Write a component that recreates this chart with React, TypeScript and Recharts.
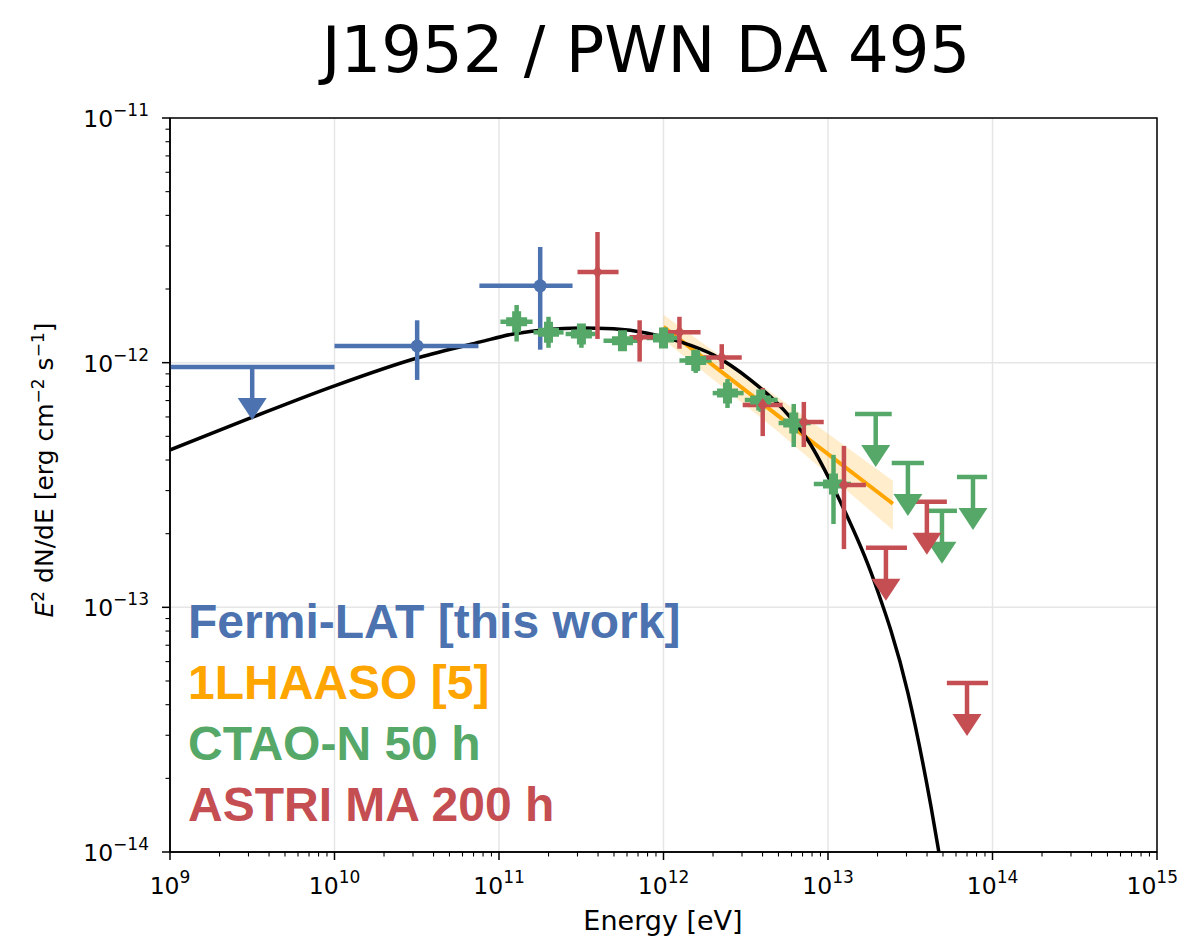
import React from 'react';
import {
  ComposedChart,
  XAxis,
  YAxis,
  Scatter,
  Line,
  Area,
  ErrorBar,
  CartesianGrid,
  ReferenceArea,
} from 'recharts';

const W = 1180;
const H = 943;

const BLUE = '#4c72b0';
const ORANGE = '#ffa500';
const GREEN = '#55a868';
const RED = '#c44e52';

// Axis decades (tick labels are 10^n)
const X_DECADES = [9, 10, 11, 12, 13, 14, 15];
const Y_DECADES = [-14, -13, -12, -11];

// Model curve (black)
const MODEL_E = [1e9, 3.2e9, 1.0e10, 3.18e10, 7.7e10, 1.22e11, 3.13e11, 4.97e11, 8.0e11, 1.27e12, 2.02e12, 3.39e12, 5.38e12, 7.53e12, 1.15e13, 1.9e13, 3.06e13, 4.23e13, 4.72e13];
const MODEL_F = [4.4e-13, 6.0e-13, 8.04e-13, 1.045e-12, 1.216e-12, 1.31e-12, 1.387e-12, 1.375e-12, 1.32e-12, 1.216e-12, 1.074e-12, 8.49e-13, 6.41e-13, 4.83e-13, 2.83e-13, 1.29e-13, 4.47e-14, 1.53e-14, 1.0e-14];

// 1LHAASO power law and band
const LHAASO_E = [1e12, 5.0e12, 2.48e13];
const LHAASO_F = [1.4e-12, 6.05e-13, 2.65e-13];
const LHAASO_LO = [1.24e-12, 5.21e-13, 2.07e-13];
const LHAASO_HI = [1.57e-12, 7.18e-13, 3.29e-13];

// Fermi-LAT
const FERMI_E = [3.18e10, 1.78e11];
const FERMI_E_LO = [1.0e10, 7.6e10];
const FERMI_E_HI = [7.5e10, 2.8e11];
const FERMI_F = [1.17e-12, 2.06e-12];
const FERMI_F_LO = [8.5e-13, 1.13e-12];
const FERMI_F_HI = [1.49e-12, 2.97e-12];
const FERMI_UL_E = [3.16e9];
const FERMI_UL_E_LO = [1.0e9];
const FERMI_UL_E_HI = [1.0e10];
const FERMI_UL_F = [9.6e-13];

// CTAO-N 50 h
const CTAO_E = [1.28e11, 2.0e11, 3.17e11, 5.63e11, 1.0e12, 1.57e12, 2.45e12, 3.9e12, 6.19e12, 1.08e13];
const CTAO_E_LO = [1.02e11, 1.62e11, 2.54e11, 4.32e11, 7.89e11, 1.25e12, 1.99e12, 3.12e12, 5.01e12, 8.2e12];
const CTAO_E_HI = [1.6e11, 2.47e11, 3.86e11, 7.26e11, 1.27e12, 1.96e12, 3.07e12, 4.94e12, 7.85e12, 1.38e13];
const CTAO_F = [1.47e-12, 1.33e-12, 1.31e-12, 1.23e-12, 1.26e-12, 1.02e-12, 7.51e-13, 7.04e-13, 5.67e-13, 3.19e-13];
const CTAO_F_LO = [1.22e-12, 1.15e-12, 1.15e-12, 1.12e-12, 1.15e-12, 9.08e-13, 6.53e-13, 6.29e-13, 4.52e-13, 2.19e-13];
const CTAO_F_HI = [1.72e-12, 1.54e-12, 1.44e-12, 1.32e-12, 1.39e-12, 1.13e-12, 8.57e-13, 7.73e-13, 6.78e-13, 4.2e-13];
const CTAO_UL_E = [1.95e13, 3.06e13, 4.93e13, 7.61e13];
const CTAO_UL_E_LO = [1.46e13, 2.44e13, 4.11e13, 6.08e13];
const CTAO_UL_E_HI = [2.44e13, 3.83e13, 6.08e13, 9.27e13];
const CTAO_UL_F = [6.17e-13, 3.89e-13, 2.48e-13, 3.41e-13];

// ASTRI MA 200 h
const ASTRI_E = [3.97e11, 7.16e11, 1.25e12, 2.26e12, 4.01e12, 7.13e12, 1.25e13];
const ASTRI_E_LO = [3.0e11, 6.22e11, 1.03e12, 1.75e12, 3.03e12, 5.38e12, 9.55e12];
const ASTRI_E_HI = [5.33e11, 9.2e11, 1.68e12, 2.99e12, 5.3e12, 9.42e12, 1.7e13];
const ASTRI_F = [2.35e-12, 1.27e-12, 1.33e-12, 1.05e-12, 6.71e-13, 5.72e-13, 3.16e-13];
const ASTRI_F_LO = [1.25e-12, 1.01e-12, 1.14e-12, 9.42e-13, 5.01e-13, 4.52e-13, 1.73e-13];
const ASTRI_F_HI = [3.42e-12, 1.49e-12, 1.54e-12, 1.19e-12, 7.88e-13, 6.91e-13, 4.57e-13];
const ASTRI_UL_E = [2.25e13, 3.99e13, 7.0e13];
const ASTRI_UL_E_LO = [1.7e13, 3.33e13, 5.28e13];
const ASTRI_UL_E_HI = [3.02e13, 5.28e13, 9.4e13];
const ASTRI_UL_F = [1.75e-13, 2.7e-13, 4.91e-14];

const LEGEND = [
  { label: 'Fermi-LAT [this work]', color: BLUE },
  { label: '1LHAASO [5]', color: ORANGE },
  { label: 'CTAO-N 50 h', color: GREEN },
  { label: 'ASTRI MA 200 h', color: RED },
];

// ---- table builders ----
const makePoints = (E: number[], elo: number[], ehi: number[], F: number[], flo: number[], fhi: number[]) =>
  E.map((e, i) => ({ e, f: F[i], ex: [e - elo[i], ehi[i] - e], ey: [F[i] - flo[i], fhi[i] - F[i]] }));
const makeULs = (E: number[], elo: number[], ehi: number[], F: number[]) =>
  E.map((e, i) => ({ e, f: F[i], ex: [e - elo[i], ehi[i] - e] }));

const modelData = MODEL_E.map((e, i) => ({ e, f: MODEL_F[i] }));
const lhaasoData = LHAASO_E.map((e, i) => ({ e, f: LHAASO_F[i], band: [LHAASO_LO[i], LHAASO_HI[i]] }));
const fermiData = makePoints(FERMI_E, FERMI_E_LO, FERMI_E_HI, FERMI_F, FERMI_F_LO, FERMI_F_HI);
const fermiUL = makeULs(FERMI_UL_E, FERMI_UL_E_LO, FERMI_UL_E_HI, FERMI_UL_F);
const ctaoData = makePoints(CTAO_E, CTAO_E_LO, CTAO_E_HI, CTAO_F, CTAO_F_LO, CTAO_F_HI);
const ctaoUL = makeULs(CTAO_UL_E, CTAO_UL_E_LO, CTAO_UL_E_HI, CTAO_UL_F);
const astriData = makePoints(ASTRI_E, ASTRI_E_LO, ASTRI_E_HI, ASTRI_F, ASTRI_F_LO, ASTRI_F_HI);
const astriUL = makeULs(ASTRI_UL_E, ASTRI_UL_E_LO, ASTRI_UL_E_HI, ASTRI_UL_F);

const majorTicks = (decs: number[]) => decs.map((d) => Math.pow(10, d));
const allTicks = (decs: number[]) => {
  const out: number[] = [];
  decs.forEach((d, i) => {
    out.push(Math.pow(10, d));
    if (i < decs.length - 1) for (let m = 2; m <= 9; m++) out.push(m * Math.pow(10, d));
  });
  return out;
};
const X_MAJOR = majorTicks(X_DECADES);
const Y_MAJOR = majorTicks(Y_DECADES);
const X_TICKS = allTicks(X_DECADES);
const Y_TICKS = allTicks(Y_DECADES);

const isMajor = (v: number) => {
  const l = Math.log10(v);
  return Math.abs(l - Math.round(l)) < 1e-6;
};
const expLabel = (v: number) => {
  const n = Math.round(Math.log10(v));
  return n < 0 ? '\u2212' + String(-n) : String(n);
};

const TICK_FONT = 'DejaVu Sans, sans-serif';
const TICK_FS = 23.5;
const EXP_FS = 17;

const XTick = (props: any) => {
  const { x, y, payload } = props;
  const v = payload.value;
  const major = isMajor(v);
  // keep the last label inside the picture
  const last = Math.abs(Math.log10(v) - X_DECADES[X_DECADES.length - 1]) < 1e-6;
  return (
    <g>
      <line x1={x} x2={x} y1={y} y2={y + (major ? 8 : 4.5)} stroke="#000" strokeWidth={major ? 1.5 : 1.1} />
      {major && (
        <text
          x={last ? W - 2 : x}
          y={y + 42}
          textAnchor={last ? 'end' : 'middle'}
          fontFamily={TICK_FONT}
          fontSize={TICK_FS}
          fill="#000"
        >
          <tspan>10</tspan>
          <tspan dy={-11} fontSize={EXP_FS}>{expLabel(v)}</tspan>
        </text>
      )}
    </g>
  );
};

const YTick = (props: any) => {
  const { x, y, payload } = props;
  const v = payload.value;
  const major = isMajor(v);
  return (
    <g>
      <line x1={x} x2={x - (major ? 8 : 4.5)} y1={y} y2={y} stroke="#000" strokeWidth={major ? 1.5 : 1.1} />
      {major && (
        <text x={x - 21} y={y + 9} textAnchor="end" fontFamily={TICK_FONT} fontSize={TICK_FS} fill="#000">
          <tspan>10</tspan>
          <tspan dy={-11} fontSize={EXP_FS}>{expLabel(v)}</tspan>
        </text>
      )}
    </g>
  );
};

const circleShape = (p: any) => <circle cx={p.cx} cy={p.cy} r={6.5} fill={BLUE} />;
const diamondShape = (p: any) => (
  <path d={`M${p.cx},${p.cy - 7}L${p.cx + 5},${p.cy}L${p.cx},${p.cy + 7}L${p.cx - 5},${p.cy}Z`} fill={RED} />
);
const plusShape = (p: any) => {
  const a = 10.5;
  const t = 4.5;
  const { cx, cy } = p;
  return (
    <path
      d={`M${cx - t},${cy - a}H${cx + t}V${cy - t}H${cx + a}V${cy + t}H${cx + t}V${cy + a}H${cx - t}V${cy + t}H${cx - a}V${cy - t}H${cx - t}Z`}
      fill={GREEN}
    />
  );
};
const ulShape = (color: string) => (p: any) => {
  const { cx, cy } = p;
  return (
    <g>
      <line x1={cx} x2={cx} y1={cy} y2={cy + 33} stroke={color} strokeWidth={4.5} />
      <path d={`M${cx - 14.5},${cy + 31}L${cx + 14.5},${cy + 31}L${cx},${cy + 53}Z`} fill={color} />
    </g>
  );
};

const EB_W = 4.5;

export default function App() {
  return (
    <div style={{ position: 'absolute', left: 0, top: 0, width: W, height: H, background: '#fff' }}>
      <ComposedChart width={W} height={H} margin={{ top: 118, right: 23, bottom: 0, left: 0 }}>
        <CartesianGrid
          horizontalValues={Y_MAJOR}
          verticalValues={X_MAJOR}
          stroke="#e6e6e6"
          strokeWidth={1.5}
        />
        <XAxis
          type="number"
          dataKey="e"
          scale="log"
          domain={[1e9, 1e15]}
          allowDataOverflow
          ticks={X_TICKS}
          interval={0}
          tick={(p: any) => <XTick {...p} />}
          tickLine={false}
          tickSize={0}
          tickMargin={0}
          height={91}
          axisLine={{ stroke: '#000', strokeWidth: 1.5 }}
        />
        <YAxis
          type="number"
          dataKey="f"
          scale="log"
          domain={[1e-14, 1e-11]}
          allowDataOverflow
          ticks={Y_TICKS}
          interval={0}
          tick={(p: any) => <YTick {...p} />}
          tickLine={false}
          tickSize={0}
          tickMargin={0}
          width={170}
          axisLine={{ stroke: '#000', strokeWidth: 1.5 }}
        />
        <Area
          data={lhaasoData}
          dataKey="band"
          stroke="none"
          fill={ORANGE}
          fillOpacity={0.2}
          isAnimationActive={false}
        />
        <Line data={lhaasoData} dataKey="f" stroke={ORANGE} strokeWidth={4} dot={false} isAnimationActive={false} />
        <Line
          data={modelData}
          dataKey="f"
          type="monotone"
          stroke="#000"
          strokeWidth={3.5}
          dot={false}
          isAnimationActive={false}
        />
        <Scatter data={fermiData} shape={circleShape} isAnimationActive={false}>
          <ErrorBar dataKey="ex" direction="x" width={0} stroke={BLUE} strokeWidth={EB_W} />
          <ErrorBar dataKey="ey" direction="y" width={0} stroke={BLUE} strokeWidth={EB_W} />
        </Scatter>
        <Scatter data={fermiUL} shape={ulShape(BLUE)} isAnimationActive={false}>
          <ErrorBar dataKey="ex" direction="x" width={0} stroke={BLUE} strokeWidth={EB_W} />
        </Scatter>
        <Scatter data={ctaoData} shape={plusShape} isAnimationActive={false}>
          <ErrorBar dataKey="ex" direction="x" width={0} stroke={GREEN} strokeWidth={EB_W} />
          <ErrorBar dataKey="ey" direction="y" width={0} stroke={GREEN} strokeWidth={EB_W} />
        </Scatter>
        <Scatter data={ctaoUL} shape={ulShape(GREEN)} isAnimationActive={false}>
          <ErrorBar dataKey="ex" direction="x" width={0} stroke={GREEN} strokeWidth={EB_W} />
        </Scatter>
        <Scatter data={astriData} shape={diamondShape} isAnimationActive={false}>
          <ErrorBar dataKey="ex" direction="x" width={0} stroke={RED} strokeWidth={EB_W} />
          <ErrorBar dataKey="ey" direction="y" width={0} stroke={RED} strokeWidth={EB_W} />
        </Scatter>
        <Scatter data={astriUL} shape={ulShape(RED)} isAnimationActive={false}>
          <ErrorBar dataKey="ex" direction="x" width={0} stroke={RED} strokeWidth={EB_W} />
        </Scatter>
        <ReferenceArea
          x1={1e9}
          x2={1e15}
          y1={1e-14}
          y2={1e-11}
          fill="none"
          fillOpacity={0}
          stroke="#000"
          strokeWidth={1.5}
          strokeOpacity={1}
        />
      </ComposedChart>
      <svg
        width={W}
        height={H}
        style={{ position: 'absolute', left: 0, top: 0, pointerEvents: 'none' }}
      >
        <text x={646} y={72} textAnchor="middle" fontFamily="DejaVu Sans, sans-serif" fontSize={64} fill="#000">
          J1952 / PWN DA 495
        </text>
        <text x={663} y={930} textAnchor="middle" fontFamily="DejaVu Sans, sans-serif" fontSize={27} fill="#000">
          Energy [eV]
        </text>
        <text
          transform="translate(53,470) rotate(-90)"
          textAnchor="middle"
          fontFamily="DejaVu Sans, sans-serif"
          fontSize={25}
          fill="#000"
        >
          <tspan fontStyle="italic">E</tspan>
          <tspan dy={-9} fontSize={17}>2</tspan>
          <tspan dy={9}>{' dN/dE [erg cm'}</tspan>
          <tspan dy={-9} fontSize={17}>{'\u22122'}</tspan>
          <tspan dy={9}>{' s'}</tspan>
          <tspan dy={-9} fontSize={17}>{'\u22121'}</tspan>
          <tspan dy={9}>]</tspan>
        </text>
        {LEGEND.map((l, i) => (
          <text
            key={l.label}
            x={188}
            y={638 + i * 61}
            fontFamily="Liberation Sans, Arial, sans-serif"
            fontWeight="bold"
            fontSize={48}
            fill={l.color}
          >
            {l.label}
          </text>
        ))}
      </svg>
    </div>
  );
}
